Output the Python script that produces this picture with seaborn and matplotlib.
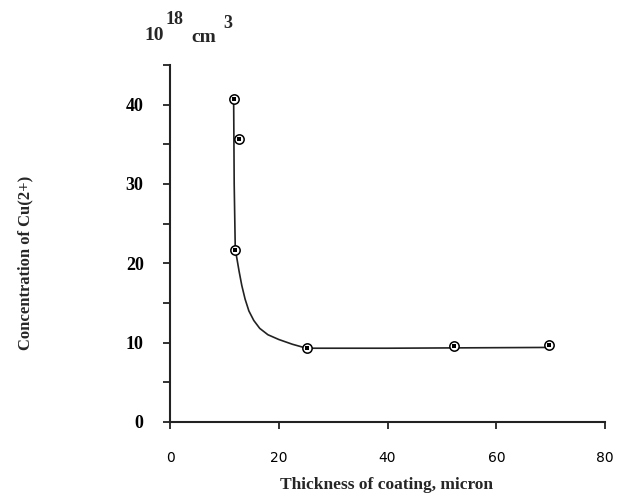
import numpy as np
import pandas as pd
import matplotlib
matplotlib.use("Agg")
from matplotlib import pyplot as plt
import seaborn as sns

# measured points
thickness = [11.7, 12.6, 12.0, 25.1, 52.3, 69.7]
concentration = [40.7, 35.7, 21.7, 9.3, 9.6, 9.7]

# hand-drawn trend line
curve_x = [11.7, 11.8, 12.0, 12.3, 12.7, 13.2, 13.8, 14.5, 15.4, 16.5, 18.0, 20.0, 22.5, 25.1, 40.0, 69.7]
curve_y = [40.7, 30.0, 21.7, 20.6, 19.0, 17.2, 15.5, 14.0, 12.8, 11.8, 11.0, 10.4, 9.8, 9.3, 9.3, 9.4]

x_ticks = [0, 20, 40, 60, 80]
y_ticks = [0, 10, 20, 30, 40]
y_minor = [5, 15, 25, 35, 45]

sns.set_style("ticks")

fig = plt.figure(figsize=(6.26, 5.0), dpi=100)
ax = fig.add_axes([0.2716, 0.156, 0.695, 0.714])

points = pd.DataFrame({"x": thickness, "y": concentration})
curve = pd.DataFrame({"x": curve_x, "y": curve_y})

sns.lineplot(data=curve, x="x", y="y", sort=False, color="#222222", linewidth=1.2, ax=ax)
sns.scatterplot(data=points, x="x", y="y", marker="o", s=45, facecolor="white",
                edgecolor="black", linewidth=1.1, zorder=3, ax=ax)
sns.scatterplot(data=points, x="x", y="y", marker="s", s=6, color="black",
                linewidth=0, zorder=4, ax=ax)

ax.set_xlim(0, 80)
ax.set_ylim(0, 45)
ax.set_xticks(x_ticks)
ax.set_xticklabels([str(v) for v in x_ticks], family="DejaVu Sans", fontsize=10)
ax.set_yticks(y_ticks)
ax.set_yticks(y_minor, minor=True)
ax.set_yticklabels([str(v) for v in y_ticks], family="Liberation Serif",
                   fontweight="bold", fontsize=13)
ax.tick_params(axis="x", direction="out", length=5, width=1.3, pad=16, colors="#222222",
               labelcolor="black")
ax.tick_params(axis="y", which="both", direction="out", length=5, width=1.3, pad=14,
               colors="#222222", labelcolor="black")
ax.set_xlabel("")
ax.set_ylabel("")

for side in ["top", "right"]:
    ax.spines[side].set_visible(False)
for side in ["left", "bottom"]:
    ax.spines[side].set_linewidth(1.5)
    ax.spines[side].set_color("#222222")

fig.text(0.617, 0.03, "Thickness of coating, micron", ha="center", va="center",
         family="Liberation Serif", fontweight="bold", fontsize=12.5)
fig.text(0.04, 0.475, "Concentration of Cu(2+)", ha="center", va="center", rotation=90,
         family="Liberation Serif", fontweight="bold", fontsize=12)

# unit label above the y axis
unit_font = dict(family="Liberation Serif", fontweight="bold")
fig.text(0.231, 0.93, "10", ha="left", va="center", fontsize=14, **unit_font)
fig.text(0.265, 0.962, "18", ha="left", va="center", fontsize=13, **unit_font)
fig.text(0.306, 0.925, "cm", ha="left", va="center", fontsize=14, **unit_font)
fig.text(0.357, 0.952, "3", ha="left", va="center", fontsize=13, **unit_font)

fig.savefig("out.png", dpi=100)
